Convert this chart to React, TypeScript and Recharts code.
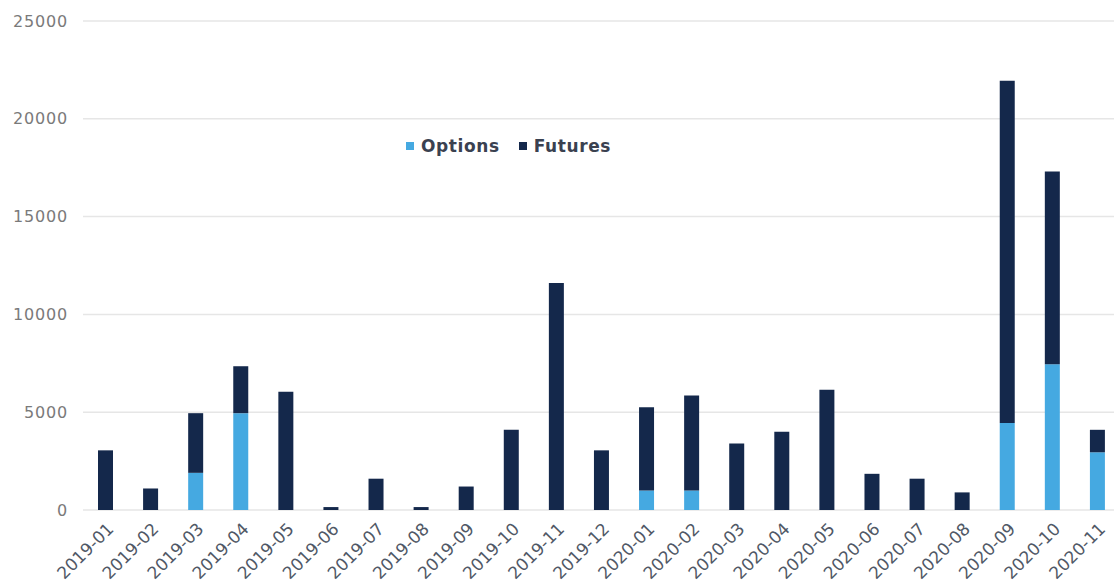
import React from 'react';
import { BarChart, Bar, XAxis, YAxis, CartesianGrid, Legend } from 'recharts';

// monthly volumes
const months = [
    '2019-01', '2019-02', '2019-03', '2019-04', '2019-05', '2019-06', '2019-07', '2019-08',
    '2019-09', '2019-10', '2019-11', '2019-12', '2020-01', '2020-02', '2020-03', '2020-04',
    '2020-05', '2020-06', '2020-07', '2020-08', '2020-09', '2020-10', '2020-11',
];
const options = [0, 0, 1900, 4950, 0, 0, 0, 0, 0, 0, 0, 0, 1000, 1000, 0, 0, 0, 0, 0, 0, 4450, 7450, 2950];
const futures = [3050, 1100, 3050, 2400, 6050, 150, 1600, 150, 1200, 4100, 11600, 3050, 4250, 4850, 3400, 4000, 6150, 1850, 1600, 900, 17500, 9850, 1150];
const yTicks = [0, 5000, 10000, 15000, 20000, 25000];
const seriesOrder = ['Options', 'Futures'];

const OPTIONS_COLOR = '#45a9e1';
const FUTURES_COLOR = '#14284b';

const data = months.map((m, i) => ({ month: m, Options: options[i], Futures: futures[i] }));

const MonthTick = (props: any) => {
    const { x, y, payload } = props;
    return (
        <g transform={`translate(${x + 9},${y + 20})`}>
            <text
                textAnchor="end"
                transform="rotate(-45)"
                fill="#505866"
                fontSize={17}
                fontFamily="DejaVu Sans"
            >
                {payload.value}
            </text>
        </g>
    );
};

const LegendContent = (props: any) => {
    // keep Options before Futures like the original
    const items = [...(props.payload || [])].sort(
        (a: any, b: any) => seriesOrder.indexOf(a.value) - seriesOrder.indexOf(b.value)
    );
    return (
        <div style={{ display: 'flex', alignItems: 'center', fontFamily: 'DejaVu Sans', fontWeight: 'bold', fontSize: 17, color: '#3a4150' }}>
            {items.map((entry: any, i: number) => (
                <div key={entry.value} style={{ display: 'flex', alignItems: 'center', marginRight: i === 0 ? 19 : 0 }}>
                    <span style={{ display: 'inline-block', width: 8, height: 8, background: entry.color, marginRight: 7 }} />
                    <span style={{ letterSpacing: 0.6 }}>{entry.value}</span>
                </div>
            ))}
        </div>
    );
};

export default function App() {
    return (
        <div style={{ position: 'absolute', left: 0, top: 0, width: 1114, height: 582, overflow: 'hidden', background: '#fff' }}>
            <BarChart
                width={1120}
                height={582}
                data={data}
                margin={{ top: 21, right: 0, bottom: 0, left: 0 }}
            >
                <CartesianGrid vertical={false} stroke="#e6e6e6" strokeWidth={1.5} />
                <XAxis
                    dataKey="month"
                    interval={0}
                    axisLine={false}
                    tickLine={false}
                    tickSize={0}
                    tickMargin={0}
                    height={72}
                    tick={<MonthTick />}
                />
                <YAxis
                    width={83}
                    domain={[0, 25000]}
                    ticks={yTicks}
                    axisLine={false}
                    tickLine={false}
                    tickSize={0}
                    tickMargin={15}
                    tick={{ fill: '#7a7a7a', fontSize: 16, fontFamily: 'DejaVu Sans', letterSpacing: 0.8 }}
                />
                <Legend
                    layout="horizontal"
                    verticalAlign="middle"
                    align="center"
                    content={<LegendContent />}
                    wrapperStyle={{ position: 'absolute', left: 406, top: 136, width: 'auto' }}
                />
                <Bar dataKey="Options" stackId="a" fill={OPTIONS_COLOR} barSize={15} isAnimationActive={false} />
                <Bar dataKey="Futures" stackId="a" fill={FUTURES_COLOR} barSize={15} isAnimationActive={false} />
            </BarChart>
        </div>
    );
}
